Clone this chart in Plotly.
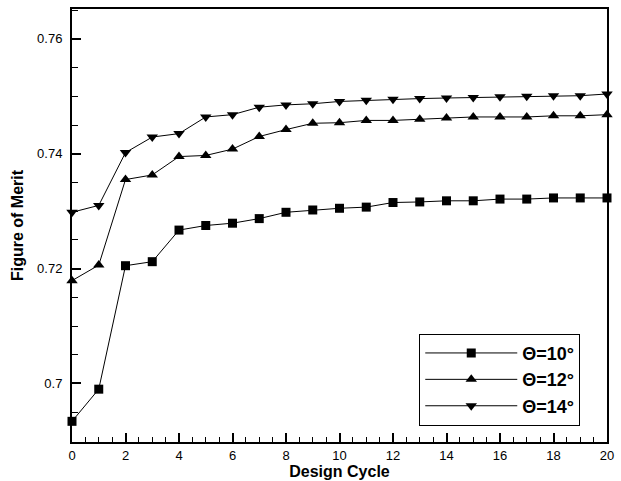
import plotly.graph_objects as go

cycles = list(range(0, 21))
fom_10 = [0.6934, 0.6990, 0.7205, 0.7212, 0.7267, 0.7275, 0.7279, 0.7287, 0.7298, 0.7302,
          0.7305, 0.7307, 0.7315, 0.7316, 0.7318, 0.7318, 0.7321, 0.7321, 0.7323, 0.7323, 0.7323]
fom_12 = [0.7179, 0.7206, 0.7355, 0.7363, 0.7395, 0.7397, 0.7408, 0.7430, 0.7442, 0.7453,
          0.7454, 0.7458, 0.7458, 0.7460, 0.7462, 0.7464, 0.7464, 0.7464, 0.7466, 0.7466, 0.7468]
fom_14 = [0.7298, 0.7310, 0.7402, 0.7429, 0.7435, 0.7464, 0.7468, 0.7481, 0.7485, 0.7487,
          0.7491, 0.7493, 0.7495, 0.7496, 0.7497, 0.7498, 0.7499, 0.7500, 0.7501, 0.7501, 0.7504]
series_names = ["Θ=10°", "Θ=12°", "Θ=14°"]
x_tick_vals = list(range(0, 21, 2))
y_tick_vals = [0.70, 0.72, 0.74, 0.76]
y_tick_text = ["0.7", "0.72", "0.74", "0.76"]

symbols = ["square", "triangle-up", "triangle-down"]
sizes = [9, 10, 10]

FONT = "Liberation Sans, Arial, Helvetica, sans-serif"

fig = go.Figure()
for name, ys, sym, sz in zip(series_names, [fom_10, fom_12, fom_14], symbols, sizes):
    fig.add_trace(go.Scatter(
        x=cycles, y=ys, name="<b>" + name + "</b>", mode="lines+markers",
        line=dict(color="black", width=1),
        marker=dict(symbol=sym, size=sz, color="black"),
        cliponaxis=False,
    ))

axis_common = dict(
    showline=True, linecolor="black", linewidth=2, mirror=True,
    showgrid=False, zeroline=False,
    ticks="inside", ticklen=9, tickwidth=1.5, tickcolor="black",
    tickfont=dict(family=FONT, size=13, color="black"),
)

fig.update_layout(
    width=621, height=481,
    margin=dict(l=72, r=9, t=7, b=35),
    paper_bgcolor="white", plot_bgcolor="white",
    font=dict(family=FONT, color="black"),
    xaxis=dict(
        range=[0, 20], tickvals=x_tick_vals,
        minor=dict(dtick=0.5, ticks="inside", ticklen=5, tickwidth=1, tickcolor="black"),
        title=dict(text="<b>Design Cycle</b>", font=dict(size=16), standoff=0),
        **axis_common,
    ),
    yaxis=dict(
        range=[0.6898, 0.7652], tickvals=y_tick_vals, ticktext=y_tick_text,
        ticklabelstandoff=5,
        minor=dict(tickvals=[0.695, 0.705, 0.71, 0.715, 0.725, 0.73, 0.735, 0.745, 0.75, 0.755, 0.765],
                   ticks="inside", ticklen=6, tickwidth=1, tickcolor="black"),
        title=dict(text="<b>Figure of Merit</b>", font=dict(size=16), standoff=9),
        **axis_common,
    ),
    legend=dict(
        x=0.95, y=0.25, xanchor="right", yanchor="top",
        bgcolor="white", bordercolor="black", borderwidth=1,
        font=dict(size=18, family=FONT, color="black"),
        itemwidth=92, tracegroupgap=0,
    ),
)

fig.write_html("out.html", config={"displayModeBar": False},
               post_script="document.body.style.margin='0px';document.body.style.overflow='hidden';")
